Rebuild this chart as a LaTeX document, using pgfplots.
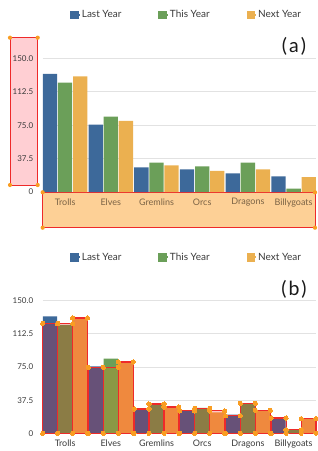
\documentclass[border=0pt]{standalone}
\usepackage{fontspec}
\setmainfont{Lato}
\usepackage{pgfplots}
\usepackage{pgfplotstable}
\pgfplotsset{compat=1.18}
\definecolor{cblue}{HTML}{3D699A}
\definecolor{cgreen}{HTML}{6B9F59}
\definecolor{corange}{HTML}{EBB050}
\definecolor{boxred}{HTML}{EE2A2A}
\definecolor{dotor}{HTML}{F99D22}
\definecolor{pinkfill}{HTML}{FFCFD3}
\definecolor{orfill}{HTML}{FDD096}
\definecolor{txt}{HTML}{3A3A3A}
\definecolor{browntxt}{HTML}{7B6345}
\definecolor{gridc}{HTML}{E2E2E2}

\pgfplotstableread{
x last this next
0 132.4 122.7 129.8
1 75.6 84.5 79.7
2 27.7 32.9 29.9
3 25.4 28.8 23.6
4 21.0 32.9 25.4
5 17.6 3.7 16.8
}\bars

\tikzset{plab/.style={font=\fontsize{19.5}{21}\selectfont, text=black!90}}
\pgfplotsset{
  sqlegend/.style={legend image code/.code={\fill[##1] (0pt,-4.3pt) rectangle (8.6pt,4.3pt); \path (0pt,-1pt) rectangle (9.5pt,1pt);}},
  barA/.style={ybar, bar width=14.3pt, bar shift=-15.1pt, fill=cblue, draw=none, sqlegend},
  barB/.style={ybar, bar width=14.3pt, bar shift=0pt, fill=cgreen, draw=none, sqlegend},
  barC/.style={ybar, bar width=14.3pt, bar shift=15.1pt, fill=corange, draw=none, sqlegend},
  ovl/.style={draw=boxred, line width=1.1pt, fill=red, fill opacity=0.22, forget plot},
  ovdots/.style={only marks, mark=*, mark size=2.1pt, color=dotor, forget plot,
    mark options={solid, line width=0pt, color=dotor, fill=dotor}},
  panel/.style={
    scale only axis, width=273.3pt,
    xmin=-0.49, xmax=5.49, ymin=0, ymax=150, clip=false,
    axis line style={draw=none}, tick style={draw=none},
    xtick={0,1,2,3,4,5},
    xticklabels={Trolls,Elves,Gremlins,Orcs,Dragons,Billygoats},
    ytick={37.5,75,112.5,150},
    yticklabels={37.5,75.0,112.5,150.0},
    extra y ticks={0}, extra y tick labels={0},
    extra y tick style={grid=none},
    ymajorgrids, grid style={draw=gridc, line width=0.8pt},
    xticklabel style={font=\fontsize{9}{10}\selectfont, yshift=-3pt},
    yticklabel style={font=\fontsize{8}{10}\selectfont, text=txt, xshift=-6pt},
    legend columns=3,
    legend style={draw=none, fill=none, anchor=center,
      font=\fontsize{10}{11}\selectfont, text=txt,
      /tikz/every even column/.append style={column sep=35pt}},
  }
}
\newcommand\ov[4][red]{%
  \addplot[ovl, fill=#1] coordinates {(#2,0) (#2,#4) (#3,#4) (#3,0)} -- cycle;
  \addplot[ovdots] coordinates {(#2,0) (#2,#4) (#3,#4) (#3,0)};}
\newcommand\plabel[1]{(\hspace{0.1em}#1\hspace{0.1em})}

\begin{document}
\begin{tikzpicture}
\path[use as bounding box] (0pt,0pt) rectangle (318pt,-451pt);
% annotation boxes of panel (a)
\filldraw[fill=pinkfill, draw=boxred, line width=1pt] (10pt,-37.7pt) rectangle (37.7pt,-185pt);
\filldraw[fill=orfill, draw=boxred, line width=1pt] (42.7pt,-192.3pt) rectangle (315pt,-227.7pt);

\begin{axis}[panel, at={(42.7pt,-192pt)}, anchor=south west, height=133.7pt,
  xticklabel style={text=browntxt},
  legend style={at={(0.527,1.324)}}]
\addplot[barA] table[x=x,y=last]{\bars};
\addplot[barB] table[x=x,y=this]{\bars};
\addplot[barC] table[x=x,y=next]{\bars};
\legend{Last Year,This Year,Next Year}
\node[plab] at (rel axis cs:0.9195,1.09) {\plabel{a}};
\end{axis}

\foreach \p in {(10pt,-37.7pt),(37.7pt,-37.7pt),(10pt,-185pt),(37.7pt,-185pt),
                (42.7pt,-192.3pt),(315pt,-192.3pt),(42.7pt,-227.7pt),(315pt,-227.7pt)}
  \fill[dotor] \p circle (2.1pt);

\begin{axis}[panel, at={(42.7pt,-433.3pt)}, anchor=south west, height=132.6pt,
  xticklabel style={text=txt},
  legend style={at={(0.527,1.327)}}]
\addplot[barA] table[x=x,y=last]{\bars};
\addplot[barB] table[x=x,y=this]{\bars};
\addplot[barC] table[x=x,y=next]{\bars};
\legend{Last Year,This Year,Next Year}
% detected overlay boxes
\ov{-0.49}{-0.165}{124.4} \ov{-0.165}{0.165}{124.0} \ov{0.165}{0.49}{130.4}
\ov{0.51}{0.835}{74.6} \ov[orange]{0.835}{1.165}{74.6} \ov{1.165}{1.49}{80.7}
\ov{1.51}{1.835}{27.5} \ov{1.835}{2.165}{33.2} \ov{2.165}{2.49}{29.8}
\ov{2.51}{2.835}{25.3} \ov{2.835}{3.165}{28.3} \ov{3.165}{3.49}{25.3}
\ov{3.51}{3.835}{20.0} \ov{3.835}{4.165}{33.9} \ov{4.165}{4.49}{26.0}
\ov{4.51}{4.835}{17.3} \ov{4.835}{5.165}{3.8} \ov{5.165}{5.49}{16.6}
\node[plab] at (rel axis cs:0.9195,1.088) {\plabel{b}};
\end{axis}
\end{tikzpicture}
\end{document}
